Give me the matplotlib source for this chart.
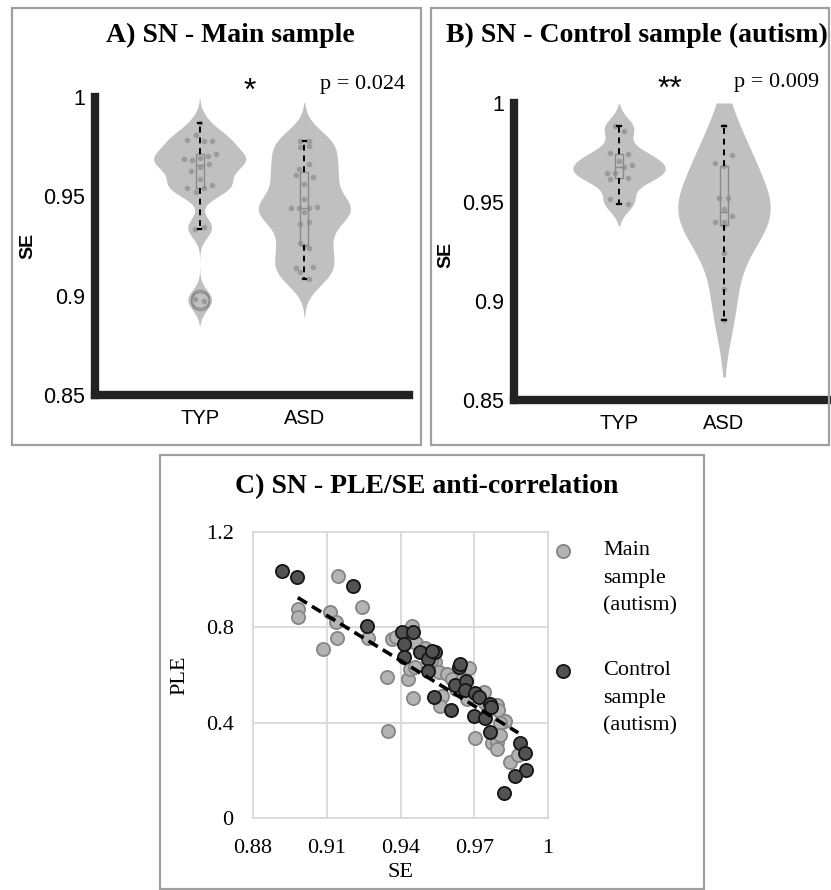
import numpy as np
import matplotlib
matplotlib.use('Agg')
import matplotlib.pyplot as plt
from matplotlib.patches import Rectangle

SERIF = 'Liberation Serif'
SANS = 'Liberation Sans'
W, H = 831, 890

groups = ['TYP', 'ASD']
se_ticks = [0.85, 0.9, 0.95, 1.0]
se_ticklabels = ['0.85', '0.9', '0.95', '1']

# A) main sample, SE per subject + horizontal jitter of the dots
main_typ_se = [0.9785, 0.9807, 0.9777, 0.9777, 0.969, 0.9685, 0.9693, 0.9705, 0.9715, 0.9648, 0.9627,
               0.9665, 0.9585, 0.9543, 0.9522, 0.9543, 0.9557, 0.9338, 0.9347, 0.8982, 0.8975, 0.987]
main_typ_jit = [-0.118, -0.036, 0.041, 0.122, -0.151, -0.077, 0.0, 0.084, 0.154, 0.0, -0.084,
                0.089, 0.0, -0.118, -0.038, 0.041, 0.122, -0.045, 0.041, -0.045, 0.041, 0.0]
main_asd_se = [0.9777, 0.9777, 0.9747, 0.9752, 0.964, 0.9663, 0.9607, 0.9597, 0.9563, 0.9485, 0.9443, 0.9443,
               0.9443, 0.9447, 0.9422, 0.936, 0.9373, 0.9263, 0.9238, 0.9138, 0.9142, 0.9118, 0.9085, 0.925]
main_asd_jit = [-0.045, 0.045, -0.045, 0.045, -0.05, 0.045, -0.083, 0.087, 0.0, 0.0, -0.125, -0.05,
                0.045, 0.125, 0.0, -0.045, 0.045, -0.045, 0.045, -0.083, 0.087, -0.045, 0.045, 0.0]

# B) control sample
ctrl_typ_se = [0.9885, 0.986, 0.9746, 0.9742, 0.9707, 0.9687, 0.9648, 0.9645, 0.9678, 0.9615, 0.962, 0.9514, 0.949]
ctrl_typ_jit = [-0.041, 0.048, -0.083, 0.086, 0.0, 0.124, -0.114, -0.035, 0.044, -0.083, 0.086, -0.083, 0.086]
ctrl_asd_se = [0.9885, 0.9737, 0.9695, 0.9682, 0.9519, 0.9522, 0.9463, 0.9431, 0.9398, 0.9401, 0.9384,
               0.924, 0.906, 0.8904]
ctrl_asd_jit = [0.0, 0.076, -0.088, 0.0, -0.05, 0.038, 0.0, 0.076, -0.088, 0.0, 0.0, 0.0, 0.0, 0.0]

# C) PLE vs SE
main_se = [0.9145, 0.8984, 0.8982, 0.9113, 0.9138, 0.9242, 0.9142, 0.9084, 0.9267, 0.9364, 0.9381, 0.9446,
           0.9344, 0.9430, 0.9440, 0.9459, 0.9452, 0.9350, 0.9464, 0.9498, 0.9540, 0.9555, 0.9588, 0.9570,
           0.9561, 0.9608, 0.9680, 0.9649, 0.9669, 0.9649, 0.9705, 0.9730, 0.9744, 0.9791, 0.9798, 0.9825,
           0.9805, 0.9773, 0.9791, 0.9791, 0.9805, 0.9846, 0.9879, 0.9525, 0.9625, 0.9740]
main_ple = [1.017, 0.877, 0.843, 0.866, 0.821, 0.887, 0.756, 0.711, 0.754, 0.752, 0.761, 0.805,
            0.591, 0.582, 0.625, 0.632, 0.502, 0.366, 0.735, 0.715, 0.656, 0.614, 0.604, 0.512,
            0.470, 0.582, 0.628, 0.579, 0.500, 0.537, 0.335, 0.516, 0.484, 0.476, 0.453, 0.408,
            0.398, 0.316, 0.320, 0.290, 0.348, 0.236, 0.264, 0.662, 0.540, 0.530]
ctrl_se = [0.8919, 0.8979, 0.9205, 0.9265, 0.9405, 0.9452, 0.9416, 0.9416, 0.9480, 0.9510, 0.9540, 0.9530,
           0.9510, 0.9537, 0.9607, 0.9636, 0.9640, 0.9620, 0.9667, 0.9663, 0.9703, 0.9721, 0.9698, 0.9743,
           0.9766, 0.9770, 0.9765, 0.9886, 0.9908, 0.9910, 0.9866, 0.9822]
ctrl_ple = [1.038, 1.010, 0.973, 0.806, 0.779, 0.781, 0.731, 0.677, 0.695, 0.668, 0.698, 0.700,
            0.618, 0.509, 0.455, 0.635, 0.645, 0.560, 0.573, 0.538, 0.526, 0.506, 0.430, 0.418,
            0.478, 0.466, 0.362, 0.316, 0.273, 0.201, 0.178, 0.106]


def fx(x):
    return x / W


def fy(y):
    return 1 - y / H


def box_stats(v, whis=1.75):
    q1, med, q3 = np.percentile(v, [25, 50, 75], method='hazen')
    iqr = q3 - q1
    lo = v[v >= q1 - whis * iqr].min()
    hi = v[v <= q3 + whis * iqr].max()
    fl = v[(v < lo) | (v > hi)]
    return dict(med=med, q1=q1, q3=q3, whislo=lo, whishi=hi, fliers=fl)


def violin(ax, pos, vals, jit, bw, cut):
    v = np.array(vals)
    grid = np.linspace(v.min() - cut * bw, min(v.max() + cut * bw, 1.0), 400)
    dens = np.exp(-0.5 * ((grid[:, None] - v[None, :]) / bw) ** 2).sum(1)
    half = 0.44 * dens / dens.max()
    ax.fill_betweenx(grid, pos - half, pos + half, color='#c0c0c0', lw=0, zorder=1)
    ax.scatter(pos + np.array(jit), v, s=16, color='#9b9b9b', lw=0, zorder=2)
    ax.bxp([box_stats(v)], positions=[pos], widths=0.075, capwidths=0.035,
           boxprops=dict(color='#8a8a8a', lw=1.0),
           medianprops=dict(color='#8a8a8a', lw=1.0),
           whiskerprops=dict(color='black', lw=1.4, ls=(0, (3, 2.5))),
           capprops=dict(color='black', lw=1.6),
           flierprops=dict(marker='o', mfc='none', mec='#8a8a8a', ms=13, mew=1.0),
           manage_ticks=False, zorder=3)


def violin_axes(rect, data, bws, cuts):
    ax = fig.add_axes(rect)
    for i, (vals, jit) in enumerate(data):
        violin(ax, i + 1, vals, jit, bws[i], cuts[i])
    ax.set_xlim(0, 3)
    ax.set_ylim(0.85, 1.0)
    ax.set_xticks([1, 2])
    ax.set_xticklabels(groups, fontfamily=SANS, fontsize=14.5)
    ax.set_yticks(se_ticks)
    ax.set_yticklabels(se_ticklabels, fontfamily=SANS, fontsize=15.5)
    ax.tick_params(length=0)
    ax.tick_params(axis='y', pad=7)
    ax.tick_params(axis='x', pad=10)
    for s in ['top', 'right']:
        ax.spines[s].set_visible(False)
    for s in ['left', 'bottom']:
        ax.spines[s].set_linewidth(6)
        ax.spines[s].set_color('#222222')
        ax.spines[s].set_capstyle('projecting')
    return ax


fig = plt.figure(figsize=(W / 100, H / 100), dpi=100)

# panel frames
for x0, y0, x1, y1 in [(12, 8, 421, 445), (431, 8, 829, 445), (160, 455, 704, 889)]:
    fig.add_artist(Rectangle((fx(x0), fy(y1)), fx(x1 - x0), (y1 - y0) / H, transform=fig.transFigure,
                             fill=False, ec='#a0a0a0', lw=1.6))

# A
axA = violin_axes([fx(95), fy(395), fx(314), (395 - 97) / H],
                  [(main_typ_se, main_typ_jit), (main_asd_se, main_asd_jit)], [0.005, 0.0075], [2.5, 2.6])
fig.text(fx(28), fy(246), 'SE', rotation=90, ha='center', va='center', fontfamily=SANS,
         fontweight='bold', fontsize=14)
fig.text(fx(230), fy(35), 'A) SN - Main sample', ha='center', va='center', fontfamily=SERIF,
         fontweight='bold', fontsize=20)
fig.text(fx(250), fy(92), '*', ha='center', va='center', fontfamily=SANS, fontsize=23)
fig.text(fx(363), fy(85), 'p = 0.024', ha='center', va='center', fontfamily=SERIF, fontsize=16)

# B
axB = violin_axes([fx(514), fy(400), fx(315), (400 - 103) / H],
                  [(ctrl_typ_se, ctrl_typ_jit), (ctrl_asd_se, ctrl_asd_jit)], [0.005, 0.016], [2.2, 1.8])
fig.text(fx(446), fy(255), 'SE', rotation=90, ha='center', va='center', fontfamily=SANS,
         fontweight='bold', fontsize=14)
fig.text(fx(637), fy(35), 'B) SN - Control sample (autism)', ha='center', va='center', fontfamily=SERIF,
         fontweight='bold', fontsize=20)
fig.text(fx(670), fy(90), '**', ha='center', va='center', fontfamily=SANS, fontsize=23)
fig.text(fx(777), fy(83), 'p = 0.009', ha='center', va='center', fontfamily=SERIF, fontsize=16)

# C
axC = fig.add_axes([fx(253), fy(818), fx(548 - 253), (818 - 532) / H])
axC.scatter(main_se, main_ple, s=90, color='#b3b3b3', edgecolor='#858585', lw=1.3, zorder=3,
            label='Main\nsample\n(autism)')
axC.scatter(ctrl_se, ctrl_ple, s=90, color='#525252', edgecolor='#151515', lw=1.3, zorder=4,
            label='Control\nsample\n(autism)')
k, b = np.polyfit(main_se, main_ple, 1)
xs = np.array([min(main_se), max(main_se)])
axC.plot(xs, k * xs + b, color='black', lw=2.6, ls=(0, (3, 1.6)), zorder=5)
axC.set_xlim(0.88, 1.0)
axC.set_ylim(0, 1.2)
axC.set_xticks([0.88, 0.91, 0.94, 0.97, 1.0])
axC.set_xticklabels(['0.88', '0.91', '0.94', '0.97', '1'], fontfamily=SERIF, fontsize=16)
axC.set_yticks([0, 0.4, 0.8, 1.2])
axC.set_yticklabels(['0', '0.4', '0.8', '1.2'], fontfamily=SERIF, fontsize=16)
axC.tick_params(length=0)
axC.tick_params(axis='x', pad=15)
axC.tick_params(axis='y', pad=14)
axC.grid(color='#d9d9d9', lw=1.3)
axC.set_axisbelow(True)
for s in axC.spines.values():
    s.set_color('#d9d9d9')
    s.set_linewidth(1.3)
axC.set_xlabel('SE', fontfamily=SERIF, fontsize=16, labelpad=4)
axC.set_ylabel('PLE', fontfamily=SERIF, fontsize=16, labelpad=12)
fig.text(fx(427), fy(487), 'C) SN - PLE/SE anti-correlation', ha='center', va='center', fontfamily=SERIF,
         fontweight='bold', fontsize=20)
leg = axC.legend(loc='upper left', bbox_to_anchor=(fx(552 - 253) / fx(548 - 253), 0.967), frameon=False,
                 prop=dict(family=SERIF, size=16), labelspacing=2.05, handletextpad=1.3,
                 handlelength=1.0, borderpad=0, borderaxespad=0)
for t in leg.get_texts():
    t.set_linespacing(1.6)
# put each key next to the first line of its label
for col in leg._legend_handle_box.get_children():
    for item in col.get_children():
        item.align = 'top'

fig.savefig('out.png', dpi=100, facecolor='white')
